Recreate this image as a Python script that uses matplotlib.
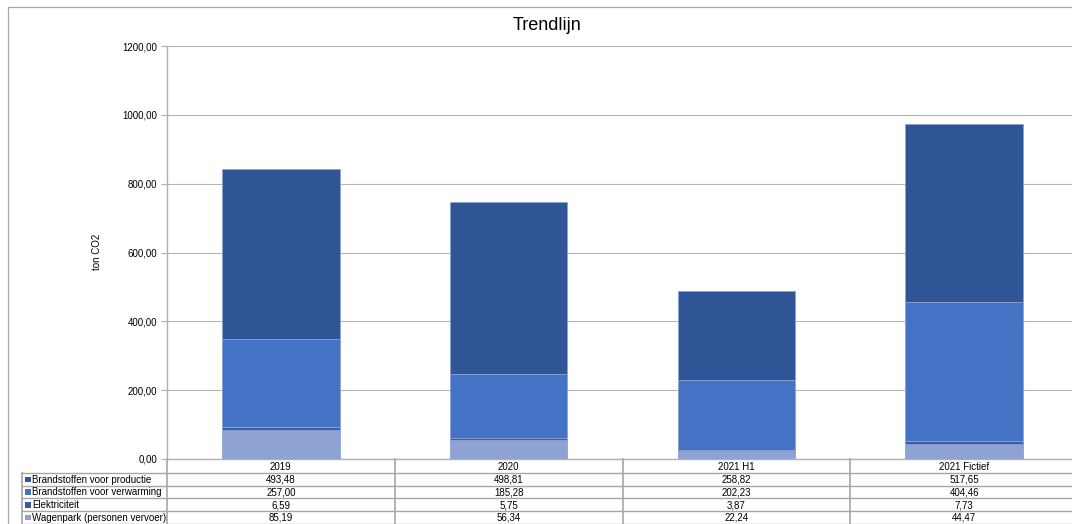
import matplotlib
matplotlib.use('Agg')
import matplotlib.pyplot as plt
from matplotlib.ticker import FuncFormatter

plt.rcParams['font.family'] = ['Liberation Sans', 'DejaVu Sans']

# ---- data -------------------------------------------------------------------
categories = ['2019', '2020', '2021 H1', '2021 Fictief']
series_names = ['Brandstoffen voor productie', 'Brandstoffen voor verwarming',
                'Elektriciteit', 'Wagenpark (personen vervoer)']
productie = [493.48, 498.81, 258.82, 517.65]
verwarming = [257.00, 185.28, 202.23, 404.46]
elektriciteit = [6.59, 5.75, 3.87, 7.73]
wagenpark = [85.19, 56.34, 22.24, 44.47]
y_ticks = [0, 200, 400, 600, 800, 1000, 1200]

colors = ['#2f5597', '#4472c4', '#3a5ca8', '#8fa2d4']

W, H = 1072, 524
fig = plt.figure(figsize=(W / 100, H / 100), dpi=100)

# pixel layout helpers
px_left, px_right = 167, 1078
px_top, px_bottom = 46, 459


def fx(px):
    return px / W


def fy(py):
    return 1 - py / H


ax = fig.add_axes([fx(px_left), fy(px_bottom), fx(px_right - px_left),
                   (px_bottom - px_top) / H])

x = list(range(len(categories)))
stack_order = [(wagenpark, 3), (elektriciteit, 2), (verwarming, 1), (productie, 0)]
bottom = [0.0] * len(categories)
for vals, idx in stack_order:
    ax.bar(x, vals, width=0.515, bottom=bottom, color=colors[idx],
           edgecolor='#8ea2d2', linewidth=0.6, zorder=3)
    bottom = [b + v for b, v in zip(bottom, vals)]

ax.set_xlim(-0.5, len(categories) - 0.5)
ax.set_ylim(0, 1200)
ax.set_yticks(y_ticks)
ax.yaxis.set_major_formatter(FuncFormatter(lambda v, p: f'{v:.2f}'.replace('.', ',')))
ax.tick_params(axis='y', labelsize=7, length=4, width=0.8, color='#b0b0b0', pad=3)
ax.set_xticks([])
ax.grid(axis='y', color='#b4b4b4', linewidth=0.8, zorder=0)
for side in ['top', 'right']:
    ax.spines[side].set_visible(False)
for side in ['left', 'bottom']:
    ax.spines[side].set_color('#b0b0b0')
    ax.spines[side].set_linewidth(1.0)

fig.text(fx(547), fy(25), 'Trendlijn', ha='center', va='center', fontsize=13)
fig.text(fx(97), fy(252), 'ton CO2', ha='center', va='center', rotation=90, fontsize=7)

# ---- outer frame ------------------------------------------------------------
ov = fig.add_axes([0, 0, 1, 1], zorder=-1)
ov.set_xlim(0, W)
ov.set_ylim(H, 0)
ov.axis('off')
ov.plot([8, 8, W], [H, 7, 7], color='#a8a8a8', linewidth=0.9)

# ---- data table -------------------------------------------------------------
tb = fig.add_axes([0, 0, 1, 1], zorder=5)
tb.set_xlim(0, W)
tb.set_ylim(H, 0)
tb.axis('off')

col_w = (px_right - px_left) / len(categories)
head_top, head_bot = px_bottom, 473
row_h = 12.7
label_left = 22
line_c = '#a6a6a6'

col_edges = [px_left + i * col_w for i in range(len(categories) + 1)]
table_rows = [productie, verwarming, elektriciteit, wagenpark]
table_bottom = head_bot + row_h * len(table_rows)

for xe in col_edges:
    tb.plot([xe, xe], [head_top, table_bottom], color=line_c, linewidth=1.2)
tb.plot([label_left, label_left], [head_bot, table_bottom], color=line_c, linewidth=1.2)
for i in range(len(table_rows) + 1):
    yy = head_bot + i * row_h
    tb.plot([label_left, W], [yy, yy], color=line_c, linewidth=1.0)

for i, cat in enumerate(categories):
    tb.text(px_left + (i + 0.5) * col_w, (head_top + head_bot) / 2 + 0.5, cat,
            ha='center', va='center', fontsize=7)

for r, (name, vals) in enumerate(zip(series_names, table_rows)):
    yc = head_bot + (r + 0.5) * row_h
    tb.add_patch(plt.Rectangle((25, yc - 2.8), 5.6, 5.6, color=colors[r], linewidth=0))
    tb.text(32, yc + 0.3, name, ha='left', va='center', fontsize=7)
    for i, v in enumerate(vals):
        tb.text(px_left + (i + 0.5) * col_w, yc + 0.3, f'{v:.2f}'.replace('.', ','),
                ha='center', va='center', fontsize=7)

fig.savefig('out.png', dpi=100)
